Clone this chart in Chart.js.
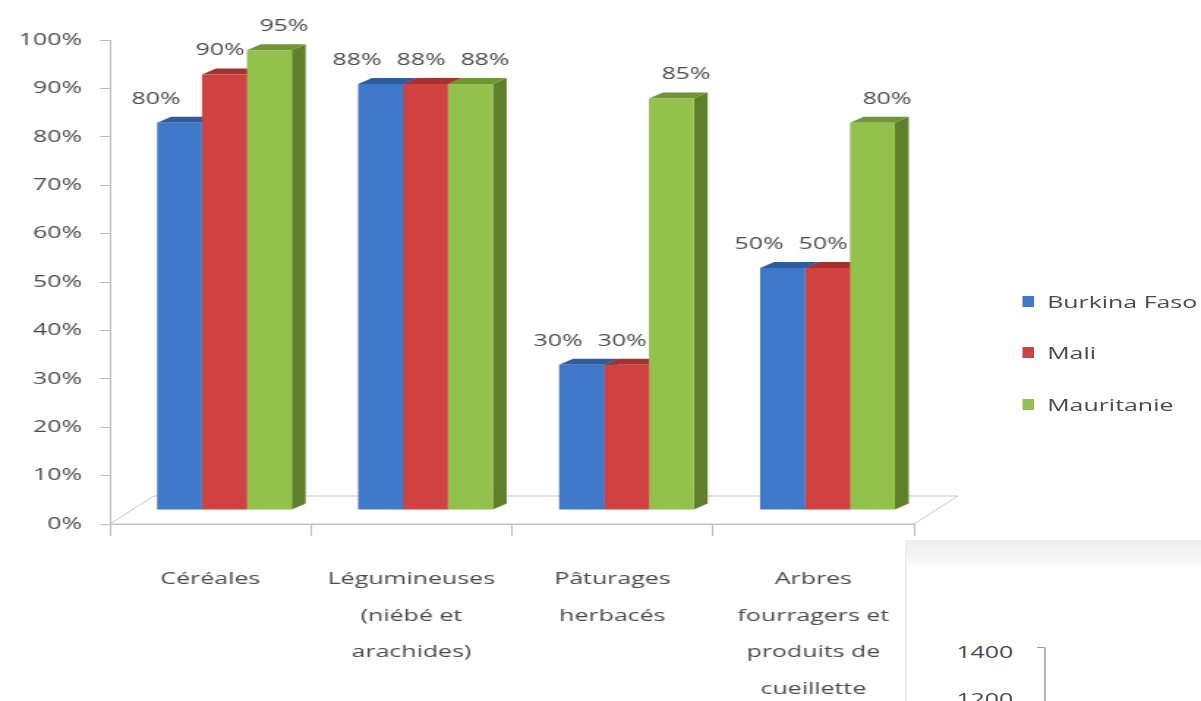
<!DOCTYPE html>
<html>
<head>
<meta charset="utf-8">
<script src="https://cdn.jsdelivr.net/npm/chart.js@4"></script>
<style>
    html, body { margin: 0; padding: 0; background: #fff; overflow: hidden; }
    /* the reference is stretched horizontally, so we draw narrow and stretch */
    #wrap { position: relative; width: 820px; height: 701px; transform: scaleX(1.4646); transform-origin: 0 0; }
    #legend { position: absolute; left: 698px; top: 0; font: 17px "Open Sans"; color: #4a4a4a; }
    .item { position: absolute; left: 0; white-space: nowrap; height: 20px; line-height: 20px; }
    .box { position: absolute; left: 0; top: 4px; width: 8px; height: 11px; }
    .txt { position: absolute; left: 17px; top: 0; }
    #panel { position: absolute; left: 618px; top: 540px; width: 202px; height: 161px; background: #fff;
             border-left: 1px solid #e6e6e6; }
    #panel .band { position: absolute; left: 0; top: 0; right: 0; height: 25px; background: linear-gradient(#eeeeee, #f9f9f9); }
    #panel .lbl { position: absolute; left: 34px; font: 17px "Open Sans"; line-height: 17px; color: #4a4a4a; }
    #panel .axis { position: absolute; left: 94px; top: 107px; width: 1px; height: 60px; background: #9a9a9a; }
    #panel .tick { position: absolute; left: 89px; top: 107px; width: 5px; height: 1px; background: #9a9a9a; }
</style>
</head>
<body>
<div id="wrap">
    <canvas id="chart" width="820" height="701"></canvas>
    <div id="legend"></div>
    <div id="panel">
        <div class="band"></div>
        <div class="lbl" style="top:103px">1400</div>
        <div class="tick"></div>
        <div class="axis"></div>
        <div class="lbl" style="top:150px">1200</div>
    </div>
</div>
<script>
// données
const categories = [
    ['Céréales'],
    ['Légumineuses', '(niébé et', 'arachides)'],
    ['Pâturages', 'herbacés'],
    ['Arbres', 'fourragers et', 'produits de', 'cueillette']
];
const seriesNames = ['Burkina Faso', 'Mali', 'Mauritanie'];
const burkinaFaso = [80, 88, 30, 50];
const mali = [90, 88, 30, 50];
const mauritanie = [95, 88, 85, 80];

const frontColors = ['#4079c9', '#cf4240', '#93c24c'];
const topColors = ['#2f5c9e', '#a3322f', '#6f9535'];
const sideColors = ['#2a5292', '#952d2a', '#5f7f2c'];

const FONT = { family: 'Open Sans', size: 17 };
const TEXT = '#4a4a4a';
const LINE = '#bdbdbd';

// décalage 3D
const BAR_DX = 9.6, BAR_DY = 14;     // barres au milieu du sol
const DEPTH_X = 9.5, DEPTH_Y = 6;    // profondeur des barres
const FLOOR_DX = 30, FLOOR_DY = 28;  // profondeur du sol
const LABEL_SPREAD = 13;             // écart des étiquettes autour de la barre du milieu

const bars3d = {
    id: 'bars3d',
    beforeDatasetsDraw(chart) {
        const ctx = chart.ctx;
        const a = chart.chartArea;
        // sol en perspective
        ctx.save();
        ctx.strokeStyle = '#c4c4c4';
        ctx.lineWidth = 1;
        ctx.fillStyle = '#fff';
        ctx.beginPath();
        ctx.moveTo(a.left, a.bottom);
        ctx.lineTo(a.right, a.bottom);
        ctx.lineTo(a.right + FLOOR_DX, a.bottom - FLOOR_DY);
        ctx.lineTo(a.left + FLOOR_DX, a.bottom - FLOOR_DY);
        ctx.closePath();
        ctx.fill();
        ctx.stroke();
        ctx.restore();

        ctx.save();
        ctx.translate(BAR_DX, -BAR_DY);
        chart.data.datasets.forEach((ds, i) => {
            chart.getDatasetMeta(i).data.forEach(bar => {
                const { x, y, base, width } = bar.getProps(['x', 'y', 'base', 'width'], true);
                const l = x - width / 2, r = x + width / 2;
                ctx.fillStyle = sideColors[i];
                ctx.beginPath();
                ctx.moveTo(r, y);
                ctx.lineTo(r + DEPTH_X, y - DEPTH_Y);
                ctx.lineTo(r + DEPTH_X, base - DEPTH_Y);
                ctx.lineTo(r, base);
                ctx.closePath();
                ctx.fill();
                ctx.fillStyle = topColors[i];
                ctx.beginPath();
                ctx.moveTo(l, y);
                ctx.lineTo(l + DEPTH_X, y - DEPTH_Y);
                ctx.lineTo(r + DEPTH_X, y - DEPTH_Y);
                ctx.lineTo(r, y);
                ctx.closePath();
                ctx.fill();
            });
        });
    },
    afterDatasetsDraw(chart) {
        const ctx = chart.ctx;
        ctx.restore();
        // étiquettes de valeurs
        ctx.save();
        ctx.font = `${FONT.size}px "${FONT.family}"`;
        ctx.fillStyle = TEXT;
        ctx.textAlign = 'center';
        ctx.textBaseline = 'middle';
        chart.data.datasets.forEach((ds, i) => {
            chart.getDatasetMeta(i).data.forEach((bar, j) => {
                const { x, y } = bar.getProps(['x', 'y'], true);
                const dx = (i - 1) * LABEL_SPREAD - 3;
                ctx.fillText(ds.data[j] + '%', x + BAR_DX + dx, y - BAR_DY - 24);
            });
        });
        ctx.restore();
    }
};

const chart = new Chart(document.getElementById('chart'), {
    type: 'bar',
    data: {
        labels: categories,
        datasets: [
            { label: seriesNames[0], data: burkinaFaso, backgroundColor: frontColors[0] },
            { label: seriesNames[1], data: mali, backgroundColor: frontColors[1] },
            { label: seriesNames[2], data: mauritanie, backgroundColor: frontColors[2] }
        ]
    },
    options: {
        responsive: false,
        animation: false,
        devicePixelRatio: 1,
        layout: { padding: { top: 40, right: 196, left: 0, bottom: 0 } },
        datasets: { bar: { categoryPercentage: 0.67, barPercentage: 1, clip: false } },
        plugins: {
            legend: { display: false },
            tooltip: { enabled: false }
        },
        scales: {
            x: {
                grid: { offset: true, drawOnChartArea: false, tickLength: 12, color: LINE },
                border: { color: LINE },
                ticks: {
                    color: TEXT,
                    font: { family: FONT.family, size: FONT.size, lineHeight: 2.15 },
                    padding: 25,
                    maxRotation: 0,
                    autoSkip: false
                },
                afterFit(scale) { scale.height = 177; }
            },
            y: {
                min: 0,
                max: 100,
                grid: { drawOnChartArea: false, tickLength: 7, color: LINE },
                border: { color: LINE },
                ticks: {
                    stepSize: 10,
                    color: TEXT,
                    font: FONT,
                    padding: 12,
                    callback: v => v + '%'
                },
                afterFit(scale) { scale.width = 75; }
            }
        }
    },
    plugins: [bars3d]
});

// légende à droite
const legendTops = [302, 353, 405];
const legend = document.getElementById('legend');
chart.data.datasets.forEach((ds, i) => {
    const item = document.createElement('div');
    item.className = 'item';
    item.style.top = (legendTops[i] - 10) + 'px';
    item.innerHTML = `<span class="box" style="background:${ds.backgroundColor}"></span><span class="txt">${ds.label}</span>`;
    legend.appendChild(item);
});
</script>
</body>
</html>
